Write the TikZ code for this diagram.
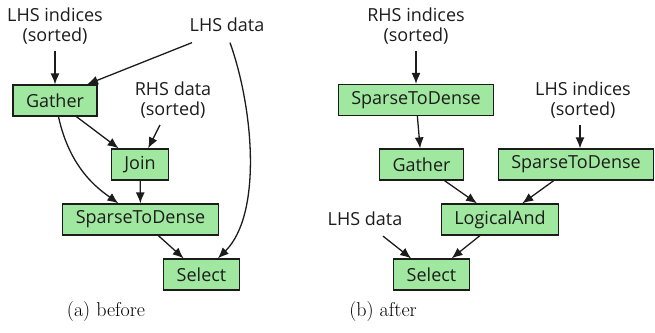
\documentclass[tikz,border=0pt]{standalone}
\usepackage{fontspec}
\newfontfamily\graphfont{Open Sans}
\usetikzlibrary{arrows.meta, positioning}
\definecolor{opgreen}{RGB}{160,232,160}
\definecolor{opink}{RGB}{28,28,28}

\begin{document}
\begin{tikzpicture}[x=1pt, y=-1pt,
      op/.style={rectangle, draw=opink, line width=1.2pt, fill=opgreen,
                 minimum height=31pt, inner xsep=13pt, text=opink,
                 font=\graphfont\fontsize{18}{20}\selectfont},
      src/.style={align=center, inner sep=0pt, text=opink,
                  font=\graphfont\fontsize{18}{20}\selectfont},
      arr/.style={-{Latex[length=11pt,width=9pt]}, line width=1.3pt, opink},
      subcap/.style={font=\fontsize{20}{23}\selectfont}
    ]
    \useasboundingbox (0,0) rectangle (655,332);

    % (a) before
    \node[src] (lidx) at (55,26) {LHS indices\\(sorted)};
    \node[src] (ldata) at (227,24.5) {LHS data};
    \node[src] (rdata) at (173,100.5) {RHS data\\(sorted)};
    \node[op] (lgather) at (55,100.5) {Gather};
    \node[op] (ljoin) at (140,164.5) {Join};
    \node[op] (lstd) at (140.5,219.5) {SparseToDense};
    \node[op] (lsel) at (201.5,274.5) {Select};

    \draw[arr] ([yshift=-7pt]lidx.south) -- (lgather);
    \draw[arr] ([xshift=-35pt,yshift=-11pt]ldata.south) -- ([xshift=32pt]lgather.north);
    \draw[arr] ([xshift=3pt,yshift=-11pt]ldata.south) .. controls (254,110) and (262,215) .. (lsel);
    \draw[arr] ([xshift=-13pt,yshift=-6pt]rdata.south) -- (ljoin);
    \draw[arr] (lgather) -- (ljoin);
    \draw[arr] (lgather) .. controls (70,170) and (100,190) .. (lstd);
    \draw[arr] (ljoin) -- (lstd);
    \draw[arr] (lstd) -- (lsel);

    % (b) after
    \node[src] (ridx) at (416,26) {RHS indices\\(sorted)};
    \node[src] (lidxb) at (583,100.5) {LHS indices\\(sorted)};
    \node[src] (ldatab) at (365,219) {LHS data};
    \node[op] (rstd) at (416,100) {SparseToDense};
    \node[op] (rgather) at (421.5,164.5) {Gather};
    \node[op] (lstdb) at (576,164.5) {SparseToDense};
    \node[op] (land) at (500,219.5) {LogicalAnd};
    \node[op] (rsel) at (431.5,274.5) {Select};

    \draw[arr] ([yshift=-7pt]ridx.south) -- (rstd);
    \draw[arr] (rstd) -- (rgather);
    \draw[arr] ([xshift=-3pt,yshift=-6pt]lidxb.south) -- ([xshift=-3pt]lidxb.south |- lstdb.north);
    \draw[arr] (rgather) -- (land);
    \draw[arr] (lstdb) -- (land);
    \draw[arr] ([xshift=18pt,yshift=-10pt]ldatab.south) -- (rsel);
    \draw[arr] (land) -- (rsel);

    \node[subcap] (capa) at (106,311.5) {(a) before};
    \node[subcap] (capb) at (383,311.5) {(b) after};
  \end{tikzpicture}
\end{document}
